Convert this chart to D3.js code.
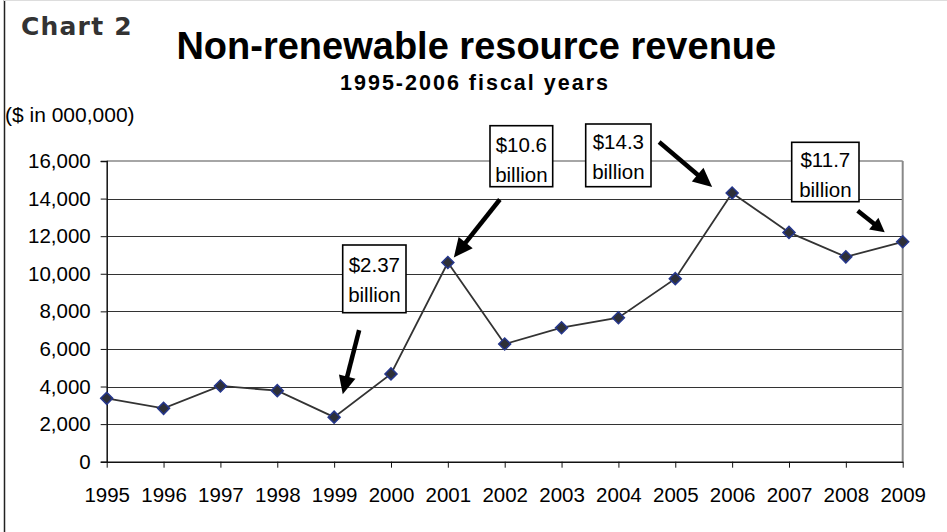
<!DOCTYPE html>
<html>
<head>
<meta charset="utf-8">
<script src="https://cdn.jsdelivr.net/npm/d3@7"></script>
<style>
  body { margin: 0; background: #fff; }
  svg { display: block; font-family: "Liberation Sans", Arial, sans-serif; }
</style>
</head>
<body>
<svg id="chart" width="947" height="532"></svg>
<script>
// fiscal years on the x axis
var years = [1995, 1996, 1997, 1998, 1999, 2000, 2001, 2002, 2003, 2004, 2005, 2006, 2007, 2008, 2009];
// revenue, $ millions
var revenue = [3370, 2840, 4030, 3780, 2370, 4670, 10600, 6260, 7130, 7660, 9740, 14300, 12200, 10900, 11700];
var yTicks = [0, 2000, 4000, 6000, 8000, 10000, 12000, 14000, 16000];
// callouts: which year they point at and their text
var calloutYears = [1999, 2001, 2006, 2009];
var calloutAmounts = ["$2.37", "$10.6", "$14.3", "$11.7"];
var calloutUnit = "billion";

var svg = d3.select("#chart");

//frame round the whole picture
svg.append("line").attr("x1", 4.5).attr("x2", 4.5).attr("y1", 0).attr("y2", 532)
   .attr("stroke", "#222").attr("stroke-width", 1.5);
svg.append("line").attr("x1", 4).attr("x2", 947).attr("y1", 0.5).attr("y2", 0.5)
   .attr("stroke", "#ddd");

var plotLeft = 106.7, plotRight = 902.7, plotTop = 161, plotBottom = 461.7;

var x = d3.scalePoint().domain(years).range([plotLeft, plotRight]);
var y = d3.scaleLinear().domain([0, 16000]).range([plotBottom, plotTop]);

/** titles **/
svg.append("text").text("Chart 2")
   .attr("x", 21).attr("y", 34.5)
   .style("font-family", "'DejaVu Sans', Verdana, sans-serif")
   .style("font-weight", "bold").style("font-size", "25px")
   .style("letter-spacing", "1.2px")
   .attr("fill", "#333");

svg.append("text").text("Non-renewable resource revenue")
   .attr("x", 476.3).attr("y", 59.3).attr("text-anchor", "middle")
   .style("font-weight", "bold").style("font-size", "38px");

svg.append("text").text("1995-2006 fiscal years")
   .attr("x", 475).attr("y", 90).attr("text-anchor", "middle")
   .style("font-weight", "bold").style("font-size", "21.5px")
   .style("letter-spacing", "2px");

svg.append("text").text("($ in 000,000)")
   .attr("x", 5).attr("y", 121.7)
   .style("font-size", "21px");

/** grid + plot border **/
var grid = svg.append("g");
grid.selectAll("line.grid")
    .data(yTicks.filter(function(d){ return d > 0 && d < 16000; }))
    .enter().append("line")
    .attr("class", "grid")
    .attr("x1", plotLeft).attr("x2", plotRight)
    .attr("y1", function(d){ return Math.round(y(d)) + 0.5; })
    .attr("y2", function(d){ return Math.round(y(d)) + 0.5; })
    .attr("stroke", "#333").attr("stroke-width", 1);

grid.append("line")
    .attr("x1", plotLeft).attr("x2", plotRight)
    .attr("y1", y(16000)).attr("y2", y(16000))
    .attr("stroke", "#888").attr("stroke-width", 1.5);
grid.append("line")
    .attr("x1", plotRight).attr("x2", plotRight)
    .attr("y1", y(16000)).attr("y2", y(0))
    .attr("stroke", "#888").attr("stroke-width", 2);

/** axes **/
var yAxis = d3.axisLeft(y).tickValues(yTicks).tickSize(6).tickPadding(10)
    .tickFormat(d3.format(","));
var gy = svg.append("g").attr("transform", "translate(" + plotLeft + ",0)").call(yAxis);
gy.select(".domain").attr("stroke", "#111").attr("stroke-width", 1.5);
gy.selectAll(".tick line").attr("stroke", "#111");
gy.selectAll("text").style("font-size", "20.5px").attr("fill", "#000")
  .style("font-family", "'Liberation Sans', Arial, sans-serif");

var xAxis = d3.axisBottom(x).tickSize(6).tickPadding(20).tickSizeOuter(0);
var gx = svg.append("g").attr("transform", "translate(0," + plotBottom + ")").call(xAxis);
gx.select(".domain").attr("stroke", "#111").attr("stroke-width", 1.5);
gx.selectAll(".tick line").attr("stroke", "#111");
gx.selectAll("text").style("font-size", "20.5px").attr("fill", "#000")
  .style("font-family", "'Liberation Sans', Arial, sans-serif");

/** series **/
var points = years.map(function(yr, i){ return {year: yr, value: revenue[i]}; });

var line = d3.line()
    .x(function(d){ return x(d.year); })
    .y(function(d){ return y(d.value); });

svg.append("path").datum(points)
   .attr("d", line)
   .attr("fill", "none")
   .attr("stroke", "#333")
   .attr("stroke-width", 1.8);

var diamond = d3.symbol().type(d3.symbolSquare).size(72);
svg.selectAll(".marker").data(points).enter()
   .append("path").attr("class", "marker")
   .attr("d", diamond())
   .attr("transform", function(d){
       return "translate(" + x(d.year) + "," + y(d.value) + ") rotate(45)";
   })
   .attr("fill", "#2e3038")
   .attr("stroke", "#26378c")
   .attr("stroke-width", 1.5);

/** callouts **/
// box: [x, y, w, h]; arrow: offsets from the data point for tail and tip; head: [len, halfwidth]
var calloutLayout = [
  {box: [342.7, 245, 63.3, 67.7], base: [271.7, 301.7], tail: [25, -87], tip: [8.6, -23], head: [18, 8.5]},
  {box: [490, 125.7, 62.7, 61],   base: [151.7, 181.7], tail: [52, -63], tip: [6, -5],    head: [19, 9]},
  {box: [585.7, 124, 65.3, 62.7], base: [149.3, 179.3], tail: [-73, -51], tip: [-20, -6], head: [19, 9]},
  {box: [791.7, 142.3, 67.3, 59.4], base: [167.3, 196.7], tail: [-45, -31], tip: [-18, -9.5], head: [14, 7.5]}
];

calloutYears.forEach(function(yr, i){
  var lay = calloutLayout[i];
  var v = revenue[years.indexOf(yr)];
  var px = x(yr), py = y(v);
  var g = svg.append("g").attr("class", "callout");

  g.append("rect")
   .attr("x", lay.box[0]).attr("y", lay.box[1])
   .attr("width", lay.box[2]).attr("height", lay.box[3])
   .attr("fill", "#fff").attr("stroke", "#000").attr("stroke-width", 1.6);

  var cx = lay.box[0] + lay.box[2] / 2;
  g.append("text").text(calloutAmounts[i])
   .attr("x", cx).attr("y", lay.base[0]).attr("text-anchor", "middle")
   .style("font-size", "20.5px");
  g.append("text").text(calloutUnit)
   .attr("x", cx).attr("y", lay.base[1]).attr("text-anchor", "middle")
   .style("font-size", "20.5px");

  //arrow
  var x0 = px + lay.tail[0], y0 = py + lay.tail[1];
  var x1 = px + lay.tip[0], y1 = py + lay.tip[1];
  var dx = x1 - x0, dy = y1 - y0, len = Math.sqrt(dx*dx + dy*dy);
  var ux = dx / len, uy = dy / len;
  var hl = lay.head[0], hw = lay.head[1];
  var bx = x1 - ux * hl, by = y1 - uy * hl;

  g.append("line")
   .attr("x1", x0).attr("y1", y0).attr("x2", bx + ux * 2).attr("y2", by + uy * 2)
   .attr("stroke", "#000").attr("stroke-width", 4.5);
  g.append("path")
   .attr("d", "M" + x1 + "," + y1 +
              "L" + (bx - uy * hw) + "," + (by + ux * hw) +
              "L" + (bx + uy * hw) + "," + (by - ux * hw) + "Z")
   .attr("fill", "#000");
});
</script>
</body>
</html>
